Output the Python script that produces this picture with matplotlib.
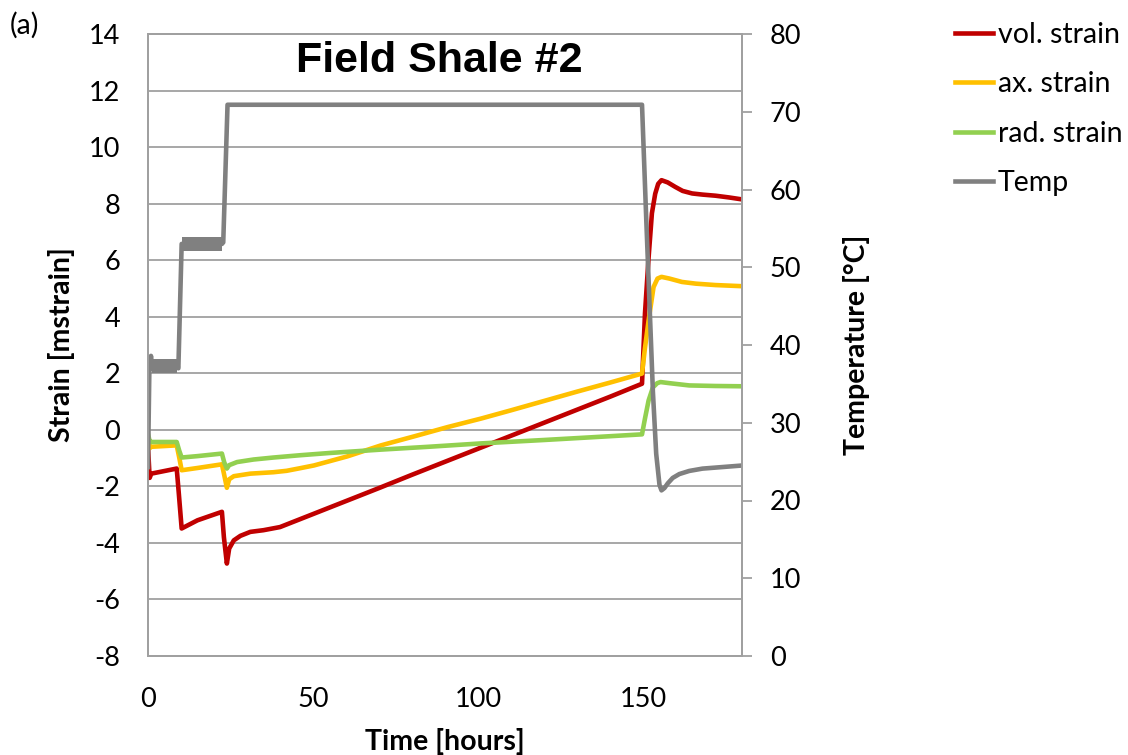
import numpy as np
import matplotlib
matplotlib.use("Agg")
import matplotlib.pyplot as plt

# Data
vol_t = [0, 0.5, 1, 8.7, 9.3, 10.2, 15, 22.4, 23.0, 23.9, 24.6, 26, 28, 31, 35, 40,
         50, 60, 70, 80, 90, 100, 110, 120, 130, 140, 149.7,
         150.6, 151.7, 152.7, 153.7, 154.6, 155.6, 157.5, 159.8, 162, 164.9, 168, 172, 176, 180]
vol_strain = [-0.6, -1.7, -1.55, -1.37, -2.2, -3.49, -3.2, -2.9, -3.8, -4.73, -4.2, -3.91, -3.75, -3.61, -3.55, -3.44,
              -2.98, -2.52, -2.06, -1.59, -1.13, -0.67, -0.21, 0.25, 0.71, 1.17, 1.63,
              4.12, 6.1, 7.66, 8.35, 8.7, 8.83, 8.75, 8.59, 8.45, 8.36, 8.32, 8.28, 8.22, 8.15]

ax_t = [0, 0.5, 1, 8.7, 9.5, 10.2, 15, 22.4, 23.1, 23.9, 24.6, 26, 31, 38, 42, 46, 50.3,
        60.4, 70.6, 80.7, 90.9, 101, 110, 120, 130, 140, 149.7,
        150.6, 151.7, 153.2, 154.4, 155.6, 158, 161.8, 166, 172, 180]
ax_strain = [-0.3, -0.65, -0.6, -0.55, -1.0, -1.43, -1.35, -1.22, -1.6, -2.05, -1.75, -1.64, -1.55, -1.5, -1.45, -1.36, -1.26,
             -0.94, -0.55, -0.23, 0.1, 0.4, 0.69, 1.02, 1.35, 1.67, 1.99,
             2.9, 3.87, 5.05, 5.35, 5.41, 5.35, 5.23, 5.17, 5.12, 5.08]

rad_t = [0, 0.5, 1, 8.7, 9.5, 10.2, 15, 22.4, 23.1, 23.9, 24.6, 27, 32, 38, 46, 55,
         70.6, 85, 101, 120, 135, 149.7,
         150.6, 151.7, 153, 154.3, 155.3, 158, 164, 172, 180]
rad_strain = [-0.15, -0.4, -0.43, -0.43, -0.75, -0.98, -0.93, -0.84, -1.15, -1.37, -1.25, -1.14, -1.05, -0.98, -0.9, -0.82,
              -0.7, -0.6, -0.48, -0.36, -0.26, -0.16,
              0.4, 1.04, 1.5, 1.65, 1.69, 1.65, 1.57, 1.55, 1.54]

temp_t = [0, 0.4, 0.9, 1.3, 3, 8.9, 9.2, 10.2, 15, 22.4, 22.8, 24.1, 60, 100, 149.7,
          151.0, 152.0, 153.0, 154.0, 155.0, 155.6, 156.5, 157.5, 159, 161, 164, 168, 174, 180]
temp = [24.3, 36.5, 38.6, 37.0, 37.2, 37.2, 37.0, 53.0, 53.0, 53.0, 53.2, 70.9, 70.9, 70.9, 70.9,
        56.0, 45.0, 34.0, 26.0, 22.0, 21.3, 21.6, 22.2, 22.9, 23.4, 23.8, 24.1, 24.3, 24.5]

# noisy plateaus of the temperature record (band edges)
band1_t = [1.3, 8.9]
band1_lo = [36.4, 36.4]
band1_hi = [38.2, 38.2]
band2_t = [10.4, 22.4]
band2_lo = [52.1, 52.1]
band2_hi = [53.9, 53.9]

RED = "#C00000"
YELLOW = "#FFC000"
GREEN = "#92D050"
GRAY = "#808080"
AXGRAY = "#A0A0A0"

plt.rcParams['font.family'] = ['Lato', 'DejaVu Sans']
TICK_FS = 19.5
LAB_FS = 20.5

fig = plt.figure(figsize=(11.28, 7.55), dpi=100)
ax = fig.add_axes([148 / 1128, 1 - 656 / 755, (742 - 148) / 1128, (656 - 34) / 755])
ax2 = ax.twinx()

lw = 3.3
l1, = ax.plot(vol_t, vol_strain, color=RED, lw=lw, label="vol. strain", zorder=3)
l2, = ax.plot(ax_t, ax_strain, color=YELLOW, lw=lw, label="ax. strain", zorder=3)
l3, = ax.plot(rad_t, rad_strain, color=GREEN, lw=lw, label="rad. strain", zorder=3)
l4, = ax2.plot(temp_t, temp, color=GRAY, lw=lw, label="Temp")
ax2.fill_between(band1_t, band1_lo, band1_hi, color=GRAY, lw=0)
ax2.fill_between(band2_t, band2_lo, band2_hi, color=GRAY, lw=0)

ax.set_xlim(0, 180)
ax.set_ylim(-8, 14)
ax2.set_ylim(0, 80)
ax.set_xticks([0, 50, 100, 150])
ax.set_yticks(np.arange(-8, 15, 2))
ax2.set_yticks(np.arange(0, 81, 10))

ax.grid(axis='y', color=AXGRAY, lw=1.3)
ax.set_axisbelow(True)

for a in (ax, ax2):
    for s in a.spines.values():
        s.set_color(AXGRAY)
        s.set_linewidth(1.3)

ax.tick_params(axis='y', length=0, pad=20, labelsize=TICK_FS)
ax.tick_params(axis='x', length=0, pad=22, labelsize=TICK_FS)
ax2.tick_params(axis='y', length=7, width=1.3, color=AXGRAY, pad=13, labelsize=TICK_FS)

ax.set_yticklabels([str(v) for v in range(-8, 15, 2)])

ax.set_xlabel("Time [hours]", fontsize=LAB_FS, fontweight='bold', labelpad=12)
ax.set_ylabel("Strain [mstrain]", fontsize=LAB_FS, fontweight='bold', labelpad=10)
ax2.set_ylabel("Temperature [°C]", fontsize=LAB_FS, fontweight='bold', labelpad=30)

ax.text(0.49, 0.957, "Field Shale #2", transform=ax.transAxes, ha='center', va='center',
        fontsize=31, fontweight='bold', family=['Liberation Sans', 'DejaVu Sans'])

fig.text(10 / 1128, 1 - 25 / 755, "(a)", fontsize=LAB_FS, va='center', ha='left')

fig.legend(handles=[l1, l2, l3, l4], loc='upper left', bbox_to_anchor=(955 / 1128, 1 - 22 / 755),
           frameon=False, fontsize=LAB_FS, handlelength=1.33, handletextpad=0.18,
           labelspacing=0.82, borderpad=0, borderaxespad=0)

fig.savefig("out.png", dpi=100)
